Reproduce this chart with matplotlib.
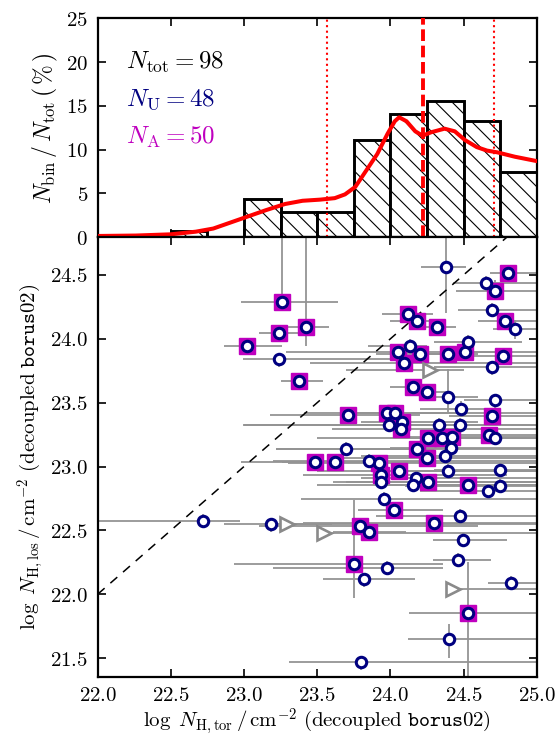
import numpy as np
import matplotlib
matplotlib.use("Agg")
import matplotlib.pyplot as plt

plt.rcParams['mathtext.fontset'] = 'cm'
plt.rcParams['font.family'] = 'serif'
plt.rcParams['hatch.linewidth'] = 0.8

# --- histogram of log NH,tor (percent of sources per 0.25 dex bin) ---
bin_left = [22.5, 22.75, 23.0, 23.25, 23.5, 23.75, 24.0, 24.25, 24.5, 24.75]
bin_pct = [0.75, 0.0, 4.4, 2.9, 2.9, 11.1, 14.1, 15.6, 13.3, 7.4]

# smoothed density curve
kde_x = [22.0, 22.26, 22.5, 22.67, 22.79, 22.91, 23.03, 23.15, 23.28, 23.40,
         23.52, 23.62, 23.69, 23.76, 23.83, 23.91, 23.98, 24.03, 24.06, 24.11,
         24.17, 24.22, 24.28, 24.37, 24.44, 24.51, 24.59, 24.66, 24.73, 24.85, 25.0]
kde_y = [0.15, 0.2, 0.34, 0.64, 1.0, 1.7, 2.4, 3.1, 3.8, 4.17,
         4.3, 4.47, 4.9, 5.75, 7.5, 9.5, 11.8, 13.25, 13.7, 13.25,
         12.1, 11.6, 12.0, 12.4, 12.1, 11.1, 10.3, 9.9, 9.7, 9.2, 8.7]

nh_median = 24.22
nh_p16 = 23.57
nh_p84 = 24.71

# --- sample A (square + circle) ---
a_x = [23.258, 23.424, 23.241, 23.018, 23.376, 24.807, 24.716, 24.786, 24.123, 24.18,
       24.319, 24.511, 24.394, 24.767, 24.05, 24.2, 24.091, 24.157, 24.253, 24.693,
       23.713, 23.977, 24.03, 24.078, 24.075, 24.673, 24.26, 24.353, 24.422, 24.18,
       24.253, 23.483, 23.622, 23.925, 24.061, 23.934, 24.26, 24.533, 24.025, 24.3,
       23.856, 23.79, 23.754, 24.533]
a_y = [24.29, 24.094, 24.043, 23.943, 23.669, 24.513, 24.376, 24.139, 24.196, 24.137,
       24.094, 23.896, 23.881, 23.867, 23.899, 23.881, 23.814, 23.625, 23.583, 23.395,
       23.403, 23.421, 23.416, 23.35, 23.291, 23.244, 23.227, 23.227, 23.233, 23.134,
       23.064, 23.037, 23.037, 23.029, 22.967, 22.933, 22.876, 22.855, 22.657, 22.555,
       22.489, 22.534, 22.236, 21.855]
a_xlo = [22.98, 23.29, 23.10, 22.86, 23.25, 24.68, 24.45, 24.6, 23.94, 24.0,
         24.2, 24.4, 24.2, 24.5, 23.29, 23.9, 23.45, 24.0, 24.1, 24.4,
         23.18, 23.41, 23.7, 23.8, 23.6, 24.3, 23.5, 24.0, 24.1, 23.22,
         23.6, 22.98, 23.26, 23.3, 23.5, 23.4, 23.7, 23.9, 23.78, 23.4,
         23.61, 23.1, 22.93, 24.13]
a_xhi = [23.64, 23.58, 23.43, 23.26, 23.54, 25.2, 25.2, 25.2, 24.29, 24.35,
         24.45, 24.8, 24.6, 25.2, 25.2, 24.5, 25.2, 24.3, 24.4, 25.2,
         24.2, 25.2, 24.5, 24.6, 25.2, 25.2, 25.2, 24.8, 25.2, 25.2,
         25.2, 24.3, 24.1, 25.2, 25.2, 24.8, 25.2, 25.2, 24.36, 25.2,
         24.11, 24.6, 24.36, 25.2]
a_ylo = [24.22, 23.94, 23.98, 23.88, 23.62, 24.47, 24.32, 24.08, 24.13, 24.08,
         24.04, 23.84, 23.83, 23.81, 23.84, 23.83, 23.76, 23.57, 23.53, 23.34,
         23.35, 23.37, 23.36, 23.30, 23.24, 23.19, 23.17, 23.17, 23.18, 23.08,
         23.01, 22.98, 22.98, 22.97, 22.91, 22.88, 22.82, 22.80, 22.60, 22.50,
         22.43, 22.48, 21.97, 21.3]
a_yhi = [25.0, 25.0, 24.10, 24.0, 23.72, 24.58, 24.46, 24.2, 24.26, 24.2,
         24.15, 23.96, 23.94, 23.92, 23.96, 23.94, 23.87, 23.68, 23.64, 23.45,
         23.46, 23.48, 23.47, 23.40, 23.35, 23.30, 23.28, 23.28, 23.29, 23.19,
         23.12, 23.09, 23.09, 23.08, 23.02, 22.99, 22.93, 22.91, 22.72, 22.61,
         22.54, 22.59, 22.74, 22.25]

# --- sample U (circle only) ---
u_x = [23.237, 24.379, 24.652, 24.693, 24.85, 24.533, 24.135, 24.693, 24.392, 24.48,
       24.714, 23.993, 24.335, 24.476, 24.718, 24.411, 24.374, 23.695, 23.856, 24.393,
       24.747, 23.934, 24.176, 24.155, 24.668, 24.747, 23.955, 24.474, 24.499, 24.461,
       23.975, 23.822, 24.825, 24.403, 23.8, 22.722, 23.182]
u_y = [23.839, 24.564, 24.434, 24.225, 24.074, 23.977, 23.943, 23.776, 23.546, 23.454,
       23.52, 23.325, 23.325, 23.325, 23.22, 23.142, 23.082, 23.134, 23.043, 22.967,
       22.975, 22.881, 22.907, 22.852, 22.808, 22.847, 22.744, 22.614, 22.424, 22.267,
       22.207, 22.116, 22.085, 21.649, 21.466, 22.575, 22.549]
u_xlo = [22.99, 24.21, 24.43, 24.46, 24.7, 24.3, 23.85, 24.3, 24.2, 24.2,
         24.5, 23.0, 22.995, 24.2, 24.4, 24.0, 23.8, 23.22, 23.2, 24.0,
         24.3, 23.61, 23.8, 23.5, 24.2, 24.1, 23.39, 23.9, 24.29, 24.29,
         23.2, 23.54, 24.67, 24.12, 23.31, 21.8, 22.86]
u_xhi = [24.1, 24.52, 25.2, 25.2, 25.2, 24.9, 24.25, 25.2, 24.6, 24.75,
         25.2, 24.4, 25.2, 25.2, 25.2, 25.2, 25.2, 24.3, 25.2, 25.2,
         25.2, 25.2, 25.2, 25.2, 25.2, 25.2, 25.2, 25.2, 24.8, 24.69,
         24.36, 24.17, 25.2, 25.2, 25.2, 22.97, 23.6]
u_ylo = [23.78, 24.2, 24.38, 24.17, 24.0, 23.92, 23.89, 23.72, 23.42, 23.40,
         23.46, 23.27, 23.27, 23.27, 23.17, 23.09, 23.03, 23.08, 22.99, 22.91,
         22.92, 22.83, 22.85, 22.80, 22.75, 22.79, 22.69, 22.56, 22.37, 22.21,
         22.15, 22.06, 22.03, 21.5, 21.41, 22.52, 22.49]
u_yhi = [23.89, 25.0, 24.49, 24.28, 24.15, 24.03, 24.0, 23.83, 23.76, 23.51,
         23.57, 23.38, 23.38, 23.38, 23.27, 23.20, 23.14, 23.19, 23.10, 23.02,
         23.03, 22.94, 22.96, 22.91, 22.86, 22.90, 22.80, 22.67, 22.48, 22.32,
         22.26, 22.17, 22.14, 21.77, 21.52, 22.63, 22.60]

# --- lower limits in NH,tor ---
lim_x = [24.271, 23.292, 23.547, 24.431]
lim_y = [23.755, 22.549, 22.481, 22.038]
lim_xlo = [23.7, 23.292, 23.547, 24.431]
lim_xhi = [24.5, 25.2, 25.2, 25.2]

xticks = [22.0, 22.5, 23.0, 23.5, 24.0, 24.5, 25.0]
yticks = [21.5, 22.0, 22.5, 23.0, 23.5, 24.0, 24.5]
hist_yticks = [0, 5, 10, 15, 20, 25]

fig = plt.figure(figsize=(5.57, 7.39), dpi=100)
ax_h = fig.add_axes([0.1754, 0.6789, 0.7882, 0.2963])
ax = fig.add_axes([0.1754, 0.0843, 0.7882, 0.5946])

for a in (ax_h, ax):
    a.tick_params(direction='in', length=6, width=1.2, top=True, right=True,
                  labelsize=15, pad=7)
    for sp in a.spines.values():
        sp.set_linewidth(1.6)

# top panel: histogram, density curve and percentiles
ax_h.bar(bin_left, bin_pct, width=0.25, align='edge', facecolor='white',
         edgecolor='black', linewidth=2.1, hatch='\\\\', zorder=2)
ax_h.plot(kde_x, kde_y, color='red', lw=2.9, zorder=4)
ax_h.axvline(nh_median, color='red', lw=2.8, ls=(0, (3, 1.2)), zorder=3)
ax_h.axvline(nh_p16, color='red', lw=1.5, ls=':', zorder=3)
ax_h.axvline(nh_p84, color='red', lw=1.5, ls=':', zorder=3)
ax_h.set_xlim(22.0, 25.0)
ax_h.set_ylim(0, 25)
ax_h.set_xticks(xticks)
ax_h.set_xticklabels([])
ax_h.set_yticks(hist_yticks)
ax_h.set_yticklabels([f'${t}$' for t in hist_yticks])
ax_h.set_ylabel(r'$N_{\rm bin}\,/\,N_{\rm tot}\,(\,\%\,)$', fontsize=17, labelpad=4)

ax_h.text(22.19, 20.0, r'$N_{\rm tot}=98$', color='black', fontsize=18, va='center')
ax_h.text(22.19, 15.7, r'$N_{\rm U}=48$', color='navy', fontsize=18, va='center')
ax_h.text(22.19, 11.4, r'$N_{\rm A}=50$', color='m', fontsize=18, va='center')

# bottom panel: line-of-sight vs torus column density
err_kw = dict(fmt='none', ecolor='#949494', elinewidth=1.3, capsize=0, zorder=1)
axa = np.array(a_x)
aya = np.array(a_y)
ax.errorbar(axa, aya,
            xerr=[axa - np.array(a_xlo), np.array(a_xhi) - axa],
            yerr=[aya - np.array(a_ylo), np.array(a_yhi) - aya], **err_kw)
ux = np.array(u_x)
uy = np.array(u_y)
ax.errorbar(ux, uy,
            xerr=[ux - np.array(u_xlo), np.array(u_xhi) - ux],
            yerr=[uy - np.array(u_ylo), np.array(u_yhi) - uy], **err_kw)
lx = np.array(lim_x)
ax.errorbar(lx, lim_y, xerr=[lx - np.array(lim_xlo), np.array(lim_xhi) - lx], **err_kw)

ax.plot([22.0, 25.0], [22.0, 25.0], color='black', lw=1.1, ls=(0, (6, 5)), zorder=1.5)

ax.plot(a_x, a_y, 's', ms=11, mfc='m', mec='m', ls='none', zorder=2)
ax.plot(a_x + u_x, a_y + u_y, 'o', ms=7.5, mfc='white', mec='navy', mew=2.2,
        ls='none', zorder=3)
ax.plot(lim_x, lim_y, '>', ms=10, mfc='white', mec='#8a8a8a', mew=1.9,
        ls='none', zorder=3)

ax.set_xlim(22.0, 25.0)
ax.set_ylim(21.354, 24.795)
ax.set_xticks(xticks)
ax.set_xticklabels([f'${t:.1f}$' for t in xticks])
ax.set_yticks(yticks)
ax.set_yticklabels([f'${t:.1f}$' for t in yticks])
ax.set_xlabel(r'$\log\ N_{\rm H,tor}\,/\,{\rm cm}^{-2}\ ({\rm decoupled}\ \mathtt{borus02})$',
              fontsize=15, labelpad=1)
ax.set_ylabel(r'$\log\ N_{\rm H,los}\,/\,{\rm cm}^{-2}\ ({\rm decoupled}\ \mathtt{borus02})$',
              fontsize=15, labelpad=2)

fig.savefig('out.png', dpi=100)
